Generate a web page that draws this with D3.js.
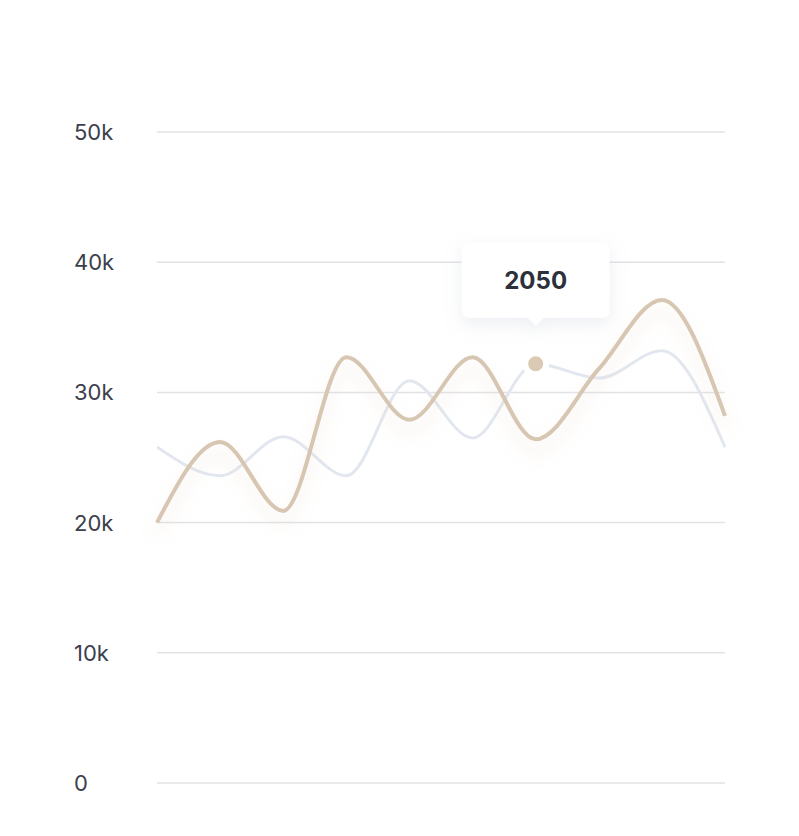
<!DOCTYPE html>
<html>
<head>
<meta charset="utf-8">
<script src="https://cdn.jsdelivr.net/npm/d3@7"></script>
<style>
	html, body { margin: 0; padding: 0; background: #ffffff; }
	#chart { width: 799px; height: 836px; }
	.tick-label { font-family: Inter, "Noto Sans", sans-serif; font-size: 22px; fill: #3b404c; }
	.tip-label { font-family: Inter, "Noto Sans", sans-serif; font-size: 24px; font-weight: 700; fill: #2b303b; }
</style>
</head>
<body>
<div id="chart"></div>
<script>
	//chart values
	var years = [2020, 2025, 2030, 2035, 2040, 2045, 2050, 2055, 2060, 2065];
	var series_tan = [20.0, 26.2, 20.9, 32.7, 27.9, 32.7, 26.4, 31.8, 37.1, 28.2];
	var series_blue = [25.8, 23.6, 26.6, 23.6, 30.9, 26.5, 32.2, 31.1, 33.2, 25.8];
	var y_ticks = [0, 10, 20, 30, 40, 50];
	var tick_labels = ["0", "10k", "20k", "30k", "40k", "50k"];
	var active_year = 2050;

	var width = 799, height = 836;
	var plot = {left: 157, right: 725, top: 132, bottom: 783};

	var svg = d3.select("#chart")
		.append("svg")
			.attr("width", width)
			.attr("height", height);

	var x = d3.scaleLinear()
		.domain(d3.extent(years))
		.range([plot.left, plot.right]);

	var y = d3.scaleLinear()
		.domain([0, 50])
		.range([plot.bottom, plot.top]);

	var defs = svg.append("defs");

	var shadow = defs.append("filter")
		.attr("id", "line-shadow")
		.attr("x", "-10%").attr("y", "-30%")
		.attr("width", "120%").attr("height", "160%");
	shadow.append("feDropShadow")
		.attr("dx", 0).attr("dy", 12)
		.attr("stdDeviation", 8)
		.attr("flood-color", "#d8bf9e")
		.attr("flood-opacity", 0.3);

	var tip_shadow = defs.append("filter")
		.attr("id", "tip-shadow")
		.attr("x", "-30%").attr("y", "-40%")
		.attr("width", "160%").attr("height", "190%");
	tip_shadow.append("feDropShadow")
		.attr("dx", 0).attr("dy", 6)
		.attr("stdDeviation", 9)
		.attr("flood-color", "#aab4c8")
		.attr("flood-opacity", 0.22);

	//gridlines + labels
	var grid = svg.append("g").attr("class", "grid");

	grid.selectAll("line")
		.data(y_ticks)
		.enter()
			.append("line")
				.attr("x1", plot.left)
				.attr("x2", plot.right)
				.attr("y1", function(d){ return y(d); })
				.attr("y2", function(d){ return y(d); })
				.attr("stroke", "#e2e2e6")
				.attr("stroke-width", 1.5);

	grid.selectAll("text")
		.data(y_ticks)
		.enter()
			.append("text")
				.attr("class", "tick-label")
				.attr("x", 74)
				.attr("y", function(d){ return y(d); })
				.attr("dy", "0.36em")
				.text(function(d, i){ return tick_labels[i]; });

	var line = d3.line()
		.x(function(d){ return x(d.year); })
		.y(function(d){ return y(d.value); })
		.curve(d3.curveMonotoneX);

	function pairs(values)
	{
		return values.map(function(v, i){ return {year: years[i], value: v}; });
	}

	var lines = svg.append("g").attr("class", "lines");

	lines.append("path")
		.datum(pairs(series_blue))
		.attr("d", line)
		.attr("fill", "none")
		.attr("stroke", "#e2e7ef")
		.attr("stroke-width", 3);

	lines.append("path")
		.datum(pairs(series_tan))
		.attr("d", line)
		.attr("fill", "none")
		.attr("stroke", "#d7c6b1")
		.attr("stroke-width", 4)
		.attr("filter", "url(#line-shadow)");

	//active point on the blue series
	var idx = years.indexOf(active_year);
	var px = x(active_year), py = y(series_blue[idx]);

	svg.append("circle")
		.attr("cx", px)
		.attr("cy", py)
		.attr("r", 10.5)
		.attr("fill", "#dac9b3")
		.attr("stroke", "#ffffff")
		.attr("stroke-width", 6);

	//tooltip
	var tip_w = 148, tip_h = 75, tip_gap = 46;
	var tip = svg.append("g")
		.attr("transform", "translate(" + (px - tip_w / 2) + "," + (py - tip_gap - tip_h) + ")");

	tip.append("path")
		.attr("d", "M8,0 H" + (tip_w - 8) + " Q" + tip_w + ",0 " + tip_w + ",8 V" + (tip_h - 8) +
			" Q" + tip_w + "," + tip_h + " " + (tip_w - 8) + "," + tip_h +
			" H" + (tip_w / 2 + 8) + " L" + (tip_w / 2) + "," + (tip_h + 8) + " L" + (tip_w / 2 - 8) + "," + tip_h +
			" H8 Q0," + tip_h + " 0," + (tip_h - 8) + " V8 Q0,0 8,0 Z")
		.attr("fill", "#ffffff")
		.attr("filter", "url(#tip-shadow)");

	tip.append("text")
		.attr("class", "tip-label")
		.attr("x", tip_w / 2)
		.attr("y", tip_h / 2)
		.attr("dy", "0.36em")
		.attr("text-anchor", "middle")
		.text(active_year);
</script>
</body>
</html>
